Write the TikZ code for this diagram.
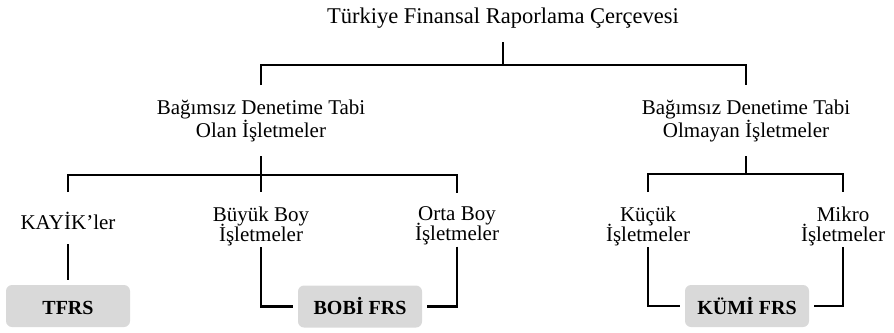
\documentclass[tikz,border=0pt]{standalone}
\usepackage{fontspec}
\setmainfont{Liberation Serif}
\begin{document}
\begin{tikzpicture}[x=1pt,y=-1pt,line width=2.8pt,
  lbl/.style={inner xsep=2pt,inner ysep=13pt,align=center,font=\fontsize{21}{23}\selectfont},
  sub/.style={lbl,font={\fontsize{21}{20}\selectfont\lineskiplimit=-20pt}},
  frs/.style={fill=black!15,rounded corners=6pt,minimum width=124pt,minimum height=42pt,outer sep=5pt,text height=16pt,text depth=0pt,font=\fontsize{20}{24}\selectfont\bfseries}]
\useasboundingbox (0,0) rectangle (894,332);

% labels
\node[lbl,font=\fontsize{22.5}{27}\selectfont] (root) at (503,17.8) {Türkiye Finansal Raporlama Çerçevesi};
\node[lbl] (olan) at (261,120.6) {Bağımsız Denetime Tabi\\Olan İşletmeler};
\node[lbl] (olmayan) at (746,120.6) {Bağımsız Denetime Tabi\\Olmayan İşletmeler};

\node[sub] (kayik) at (68,221.2) {KAYİK’ler};
\node[sub] (buyuk) at (261,226.1) {Büyük Boy\\İşletmeler};
\node[sub] (orta) at (457,226.1) {Orta Boy\\İşletmeler};
\node[sub] (kucuk) at (648,226.1) {Küçük\\İşletmeler};
\node[sub] (mikro) at (843,226.1) {Mikro\\İşletmeler};

% standards
\node[frs] (tfrs) at (68,306) {TFRS};
\node[frs] (bobi) at (360,306.5) {BOBİ FRS};
\node[frs] (kumi) at (747,306) {KÜMİ FRS};

% tree lines
\coordinate (j0) at (503,65);
\coordinate (j1) at (261,175);
\coordinate (j2) at (746,174);
\draw (root.south) -- (j0);
\draw (olan.north) |- (j0) -| (olmayan.north);
\draw (olan.south) -- (buyuk.north);
\draw ([yshift=6pt]kayik.north) |- (j1) -| (orta.north);
\draw (olmayan.south) -- (j2);
\draw (kucuk.north) |- (j2) -| (mikro.north);

\draw (kayik.south) -- (tfrs.north);
\draw ([yshift=13pt]buyuk.south) |- (bobi.west);
\draw ([yshift=13pt]orta.south) |- (bobi.east);
\draw ([yshift=13pt]kucuk.south) |- (kumi.west);
\draw ([yshift=13pt]mikro.south) |- (kumi.east);
\end{tikzpicture}
\end{document}
